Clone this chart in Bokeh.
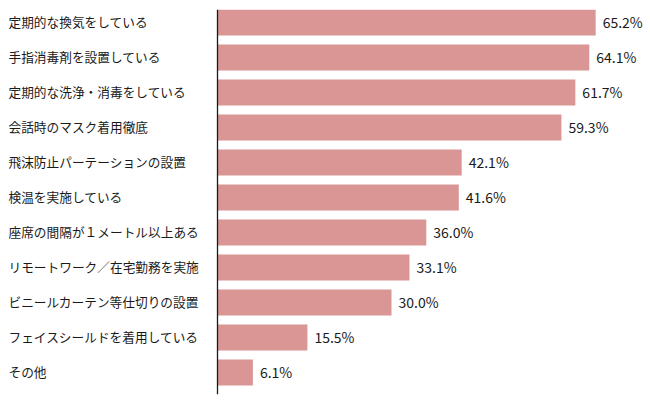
from bokeh.plotting import figure
from bokeh.models import ColumnDataSource, Range1d, Span
from bokeh.core.properties import value
from bokeh.embed import file_html
from bokeh.resources import INLINE

categories = [
    "定期的な換気をしている",
    "手指消毒剤を設置している",
    "定期的な洗浄・消毒をしている",
    "会話時のマスク着用徹底",
    "飛沫防止パーテーションの設置",
    "検温を実施している",
    "座席の間隔が１メートル以上ある",
    "リモートワーク／在宅勤務を実施",
    "ビニールカーテン等仕切りの設置",
    "フェイスシールドを着用している",
    "その他",
]
values = [65.2, 64.1, 61.7, 59.3, 42.1, 41.6, 36.0, 33.1, 30.0, 15.5, 6.1]
value_labels = [f"{v:.1f}%" for v in values]

W, H = 650, 405
AXIS_PX = 217          # pixel position of the value axis (x=0)
SCALE = 5.8            # pixels per percentage point
TOP, BOTTOM = 9, 11
BAND = (H - TOP - BOTTOM) / len(categories)
SHIFT = 0.5 - 13 / BAND

idx = list(range(len(categories)))
label_x = [(-AXIS_PX + 8) / SCALE] * len(categories)
src = ColumnDataSource(dict(y=idx, v=values, cat=categories, lab=value_labels, lx=label_x))

p = figure(width=W, height=H, output_backend="svg", toolbar_location=None,
           x_axis_type=None, y_axis_type=None,
           x_range=Range1d(-AXIS_PX / SCALE, (W - AXIS_PX) / SCALE),
           y_range=Range1d(len(categories) - 0.5 + SHIFT, -0.5 + SHIFT),
           min_border_left=0, min_border_right=0,
           min_border_top=TOP, min_border_bottom=BOTTOM)
p.outline_line_color = None
p.xgrid.visible = False
p.ygrid.visible = False
p.background_fill_color = "white"
p.border_fill_color = "white"

p.hbar(y="y", left=0, right="v", height=26 / BAND, source=src,
       fill_color="#D99694", line_color=None)

p.add_layout(Span(location=0, dimension="height", line_color="#1a1a1a", line_width=1.3))

p.text(x="lx", y="y", text="cat", source=src, text_font=value("Noto Sans CJK JP"),
       text_font_size="12.7px", text_color="#1a1a1a", text_baseline="middle",
       text_align="left", y_offset=-1)
p.text(x="v", y="y", text="lab", source=src, text_font=value("Noto Sans CJK JP"),
       text_font_size="14px", text_color="#1a1a1a", text_baseline="middle",
       text_align="left", x_offset=7, y_offset=-1)

open("out.html", "w").write(file_html(p, INLINE))
